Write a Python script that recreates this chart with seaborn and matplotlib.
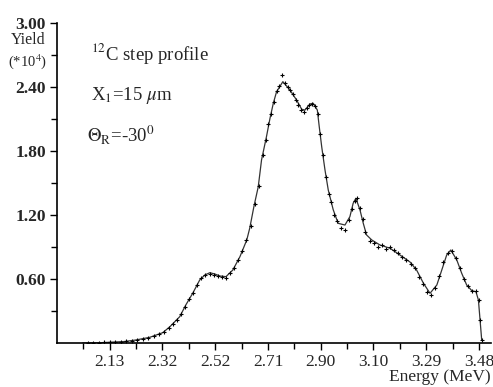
import numpy as np
import pandas as pd
import seaborn as sns
import matplotlib.pyplot as plt


# fitted profile (solid line), energy in MeV, yield in units of 1e4
FIT_E = [2.031, 2.093, 2.130, 2.185, 2.225, 2.276, 2.324, 2.350, 2.386, 2.408,
         2.434, 2.459, 2.478, 2.496, 2.514, 2.533, 2.555, 2.580, 2.606, 2.631,
         2.642, 2.657, 2.673, 2.685, 2.703, 2.716, 2.728, 2.740, 2.763, 2.789,
         2.813, 2.832, 2.844, 2.862, 2.874, 2.889, 2.896, 2.905, 2.917, 2.929,
         2.947, 2.965, 2.990, 3.008, 3.020, 3.030, 3.045, 3.057, 3.069, 3.088,
         3.118, 3.155, 3.191, 3.228, 3.252, 3.277, 3.301, 3.326, 3.344, 3.362,
         3.377, 3.399, 3.417, 3.435, 3.454, 3.469, 3.478, 3.484, 3.490]
FIT_Y = [0.000, 0.002, 0.007, 0.014, 0.028, 0.053, 0.097, 0.153, 0.247, 0.356,
         0.469, 0.591, 0.638, 0.659, 0.647, 0.628, 0.622, 0.684, 0.809, 0.966,
         1.078, 1.278, 1.465, 1.716, 1.934, 2.107, 2.247, 2.356, 2.450, 2.372,
         2.278, 2.191, 2.184, 2.241, 2.247, 2.184, 2.028, 1.840, 1.622, 1.434,
         1.250, 1.122, 1.106, 1.184, 1.310, 1.357, 1.247, 1.122, 1.013, 0.966,
         0.919, 0.888, 0.825, 0.759, 0.684, 0.560, 0.466, 0.544, 0.684, 0.825,
         0.872, 0.778, 0.653, 0.544, 0.490, 0.481, 0.403, 0.216, 0.028]

# measured spectrum (markers)
DATA_E = [2.05, 2.07, 2.09, 2.11, 2.13, 2.15, 2.17, 2.19, 2.21, 2.23,
          2.25, 2.27, 2.29, 2.31, 2.33, 2.345, 2.36, 2.375, 2.39, 2.405,
          2.42, 2.435, 2.45, 2.465, 2.48, 2.495, 2.51, 2.525, 2.54, 2.555,
          2.57, 2.585, 2.60, 2.615, 2.63, 2.645, 2.66, 2.675, 2.69, 2.70,
          2.71, 2.72, 2.73, 2.74, 2.75, 2.76, 2.77, 2.78, 2.79, 2.80,
          2.81, 2.82, 2.83, 2.84, 2.85, 2.86, 2.87, 2.88, 2.89, 2.90,
          2.91, 2.92, 2.93, 2.94, 2.95, 2.96, 2.975, 2.99, 3.005, 3.015,
          3.025, 3.035, 3.045, 3.055, 3.065, 3.08, 3.095, 3.11, 3.125, 3.14,
          3.155, 3.17, 3.185, 3.20, 3.215, 3.23, 3.245, 3.26, 3.275, 3.29,
          3.305, 3.32, 3.335, 3.35, 3.365, 3.38, 3.395, 3.41, 3.425, 3.44,
          3.455, 3.47, 3.48, 3.485, 3.49]
DATA_Y = [0.000, 0.000, 0.000, 0.005, 0.008, 0.010, 0.012, 0.015, 0.020, 0.030,
          0.040, 0.050, 0.065, 0.080, 0.105, 0.140, 0.180, 0.220, 0.270, 0.340,
          0.410, 0.470, 0.540, 0.610, 0.640, 0.650, 0.640, 0.630, 0.620, 0.605,
          0.660, 0.700, 0.780, 0.860, 0.970, 1.100, 1.300, 1.470, 1.760, 1.900,
          2.050, 2.150, 2.260, 2.360, 2.410, 2.510, 2.440, 2.400, 2.370, 2.330,
          2.280, 2.230, 2.180, 2.170, 2.200, 2.230, 2.240, 2.220, 2.150, 1.960,
          1.760, 1.560, 1.400, 1.320, 1.200, 1.140, 1.080, 1.060, 1.150, 1.260,
          1.330, 1.360, 1.270, 1.160, 1.040, 0.960, 0.940, 0.900, 0.920, 0.880,
          0.900, 0.870, 0.840, 0.810, 0.780, 0.740, 0.700, 0.620, 0.550, 0.480,
          0.450, 0.520, 0.630, 0.760, 0.840, 0.860, 0.800, 0.700, 0.600, 0.530,
          0.490, 0.490, 0.400, 0.220, 0.030]

X_TICK_LABELS = ["2.13", "2.32", "2.52", "2.71", "2.90", "3.10", "3.29", "3.48"]
Y_TICK_LABELS = ["0.60", "1.20", "1.80", "2.40", "3.00"]


def main():
    sns.set_style("ticks")
    plt.rcParams["font.family"] = ["Liberation Serif", "DejaVu Serif"]
    plt.rcParams["mathtext.fontset"] = "stix"

    fig = plt.figure(figsize=(4.93, 3.87), dpi=100)
    ax = fig.add_axes([57 / 493, 44 / 387, 434 / 493, 320 / 387])

    fit = pd.DataFrame({"E": FIT_E, "Y": FIT_Y})
    data = pd.DataFrame({"E": DATA_E, "Y": DATA_Y})

    sns.lineplot(data=fit, x="E", y="Y", ax=ax, color="#333333", linewidth=0.9,
                 sort=False, legend=False)
    sns.scatterplot(data=data, x="E", y="Y", ax=ax, marker="+", s=10,
                    color="black", linewidth=0.8, legend=False, zorder=3)

    step = (3.48 - 2.13) / 7
    xmaj = 2.13 + step * np.arange(len(X_TICK_LABELS))
    xmin = np.concatenate([[2.13 - step / 2], xmaj[:-1] + step / 2])
    ax.set_xlim(2.13 - step, 3.524)
    ax.set_xticks(xmaj)
    ax.set_xticklabels(X_TICK_LABELS)
    ax.set_xticks(xmin, minor=True)

    ymaj = [float(v) for v in Y_TICK_LABELS]
    ax.set_ylim(0, 3.0)
    ax.set_yticks(ymaj)
    ax.set_yticklabels(Y_TICK_LABELS, fontweight="bold")
    ax.set_yticks(np.array(ymaj) - 0.3, minor=True)

    ax.tick_params(axis="both", which="major", length=5, width=1.0,
                   labelsize=12.5, direction="out", color="black", pad=3)
    ax.tick_params(axis="both", which="minor", length=4, width=1.0,
                   direction="out", color="black")
    ax.set_xlabel("")
    ax.set_ylabel("")
    sns.despine(ax=ax)
    for s in ["left", "bottom"]:
        ax.spines[s].set_linewidth(1.2)
        ax.spines[s].set_color("black")

    fig.text(28 / 493, 1 - 40 / 387, "Yield", ha="center", va="center",
             fontsize=11.5)
    fig.text(28 / 493, 1 - 62 / 387, "(*10$^4$)", ha="center", va="center",
             fontsize=10.5)
    fig.text(491 / 493, 2 / 387, "Energy (MeV)", ha="right", va="bottom",
             fontsize=12.5)

    fig.text(91 / 493, 1 - 60 / 387, "$^{12}$C step profile", fontsize=13.5,
             ha="left", va="baseline")
    fig.text(91 / 493, 1 - 100 / 387, "X$_1$=15 $\\mu$m", fontsize=13.5,
             ha="left", va="baseline")
    fig.text(87 / 493, 1 - 141 / 387, "$\\Theta_\\mathrm{R}$=-30$^0$",
             fontsize=13.5, ha="left", va="baseline")

    fig.savefig("out.png", dpi=100)


main()
